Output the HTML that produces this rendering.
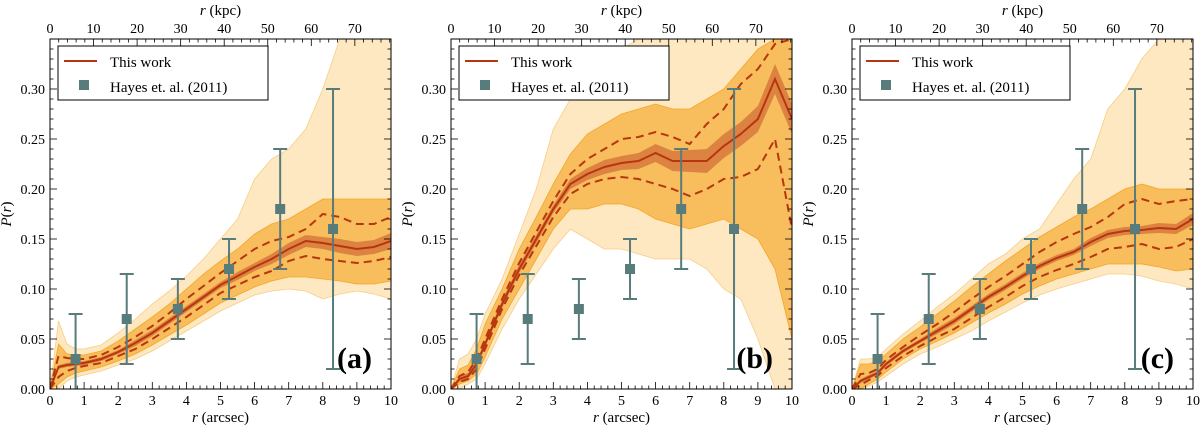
<!DOCTYPE html>
<html><head><meta charset="utf-8"><style>
html,body{margin:0;padding:0;background:#fff;}
svg{display:block;font-family:"Liberation Serif",serif;}
</style></head><body>
<svg id="fig" width="1200" height="429" viewBox="0 0 1200 429" xmlns="http://www.w3.org/2000/svg"></svg>
<script>
const rGrid=[0,0.25,0.5,0.75,1,1.5,2,2.5,3,3.5,4,4.5,5,5.5,6,6.5,7,7.5,8,8.5,9,9.5,10];
const aMedian=[0,.022,.024,.025,.026,.030,.037,.046,.056,.068,.080,.092,.104,.113,.122,.130,.140,.148,.146,.143,.140,.142,.148];
const aHalf=[0,.002,.002,.002,.002,.002,.002,.003,.003,.003,.003,.003,.003,.004,.004,.005,.006,.006,.006,.007,.007,.007,.008];
const aDashUp=[0,.033,.031,.030,.030,.034,.042,.052,.063,.076,.090,.103,.116,.128,.140,.148,.152,.160,.175,.172,.165,.165,.172];
const aDashLo=[0,.012,.018,.021,.023,.026,.033,.040,.050,.061,.072,.084,.096,.104,.112,.118,.128,.133,.130,.128,.126,.128,.132];
const aInnerUp=[0,.045,.035,.034,.034,.038,.048,.060,.072,.085,.100,.115,.128,.140,.155,.165,.17,.18,.19,.19,.19,.19,.19];
const aInnerLo=[0,.005,.012,.016,.018,.022,.028,.035,.044,.054,.064,.075,.086,.094,.102,.108,.112,.112,.110,.108,.105,.105,.108];
const aOuterUp=[0,.068,.045,.040,.040,.044,.056,.070,.085,.098,.113,.130,.150,.170,.210,.230,.240,.260,.300,.350,.350,.350,.350];
const aOuterLo=[0,0,.008,.012,.014,.018,.024,.030,.038,.048,.058,.068,.078,.086,.094,.098,.100,.098,.090,.095,.098,.095,.090];

const bMedian=[0,.010,.013,.025,.045,.085,.120,.150,.180,.205,.215,.222,.226,.228,.236,.228,.228,.228,.243,.255,.270,.310,.270];
const bHalf=[0,.003,.003,.003,.003,.004,.004,.004,.004,.005,.006,.007,.007,.008,.009,.010,.011,.012,.012,.012,.013,.015,.015];
const bDashUp=[0,.013,.017,.030,.050,.090,.126,.157,.188,.215,.230,.240,.250,.252,.257,.252,.245,.265,.280,.305,.320,.345,.350];
const bDashLo=[0,.007,.010,.020,.040,.080,.114,.143,.172,.195,.205,.210,.212,.210,.205,.200,.193,.200,.210,.212,.220,.250,.160];
const bInnerUp=[0,.02,.024,.04,.065,.10,.14,.172,.205,.235,.255,.265,.275,.28,.285,.28,.28,.29,.30,.32,.34,.35,.35];
const bInnerLo=[0,.005,.008,.015,.032,.07,.10,.13,.16,.18,.18,.185,.185,.18,.17,.165,.16,.165,.17,.16,.15,.12,.05];
const bOuterUp=[0,.03,.035,.05,.075,.11,.155,.20,.26,.29,.30,.32,.34,.35,.35,.35,.35,.35,.35,.35,.35,.35,.35];
const bOuterLo=[0,0,.005,.01,.025,.06,.09,.115,.14,.16,.15,.14,.14,.135,.13,.13,.13,.12,.10,.09,.05,0,0];

const cMedian=[0,.008,.012,.016,.025,.038,.048,.058,.068,.080,.092,.102,.113,.123,.131,.137,.147,.155,.158,.159,.161,.160,.170];
const cHalf=[0,.002,.002,.002,.002,.002,.002,.003,.003,.003,.003,.003,.003,.003,.003,.003,.004,.004,.004,.004,.005,.005,.006];
const cDashUp=[0,.015,.016,.020,.029,.042,.054,.065,.077,.090,.102,.113,.125,.137,.147,.155,.162,.172,.185,.190,.185,.188,.190];
const cDashLo=[0,.004,.009,.013,.021,.033,.043,.052,.060,.071,.082,.092,.103,.112,.119,.125,.132,.140,.142,.145,.140,.142,.150];
const cInnerUp=[0,.025,.025,.028,.035,.05,.062,.075,.088,.102,.115,.128,.14,.152,.162,.172,.18,.19,.2,.205,.2,.2,.2];
const cInnerLo=[0,0,.005,.01,.017,.03,.04,.048,.056,.066,.076,.085,.095,.103,.11,.115,.12,.125,.125,.125,.122,.118,.12];
const cOuterUp=[0,.03,.03,.032,.04,.055,.068,.082,.095,.11,.125,.135,.15,.16,.185,.21,.23,.28,.30,.33,.35,.35,.35];
const cOuterLo=[0,0,.003,.007,.013,.025,.035,.042,.05,.058,.068,.077,.086,.094,.10,.105,.11,.115,.115,.113,.108,.105,.1];

const hayesR=[0.75,2.25,3.75,5.25,6.75,8.3];
const hayesP=[0.03,0.07,0.08,0.12,0.18,0.16];
const hayesLo=[-0.01,0.025,0.05,0.09,0.12,0.02];
const hayesHi=[0.075,0.115,0.11,0.15,0.24,0.30];
const yTicks=["0.00","0.05","0.10","0.15","0.20","0.25","0.30"];
const xTicks=["0","1","2","3","4","5","6","7","8","9","10"];
const kpcTicks=["0","10","20","30","40","50","60","70"];
const kpcPerArcsec=7.83;

const NS="http://www.w3.org/2000/svg";
const svg=document.getElementById('fig');
function mk(tag,attrs,parent){const e=document.createElementNS(NS,tag);for(const k in attrs)e.setAttribute(k,attrs[k]);(parent||svg).appendChild(e);return e;}

const panels=[
 {id:'a',x0:50,med:aMedian,half:aHalf,du:aDashUp,dl:aDashLo,iu:aInnerUp,il:aInnerLo,ou:aOuterUp,ol:aOuterLo},
 {id:'b',x0:451,med:bMedian,half:bHalf,du:bDashUp,dl:bDashLo,iu:bInnerUp,il:bInnerLo,ou:bOuterUp,ol:bOuterLo},
 {id:'c',x0:852,med:cMedian,half:cHalf,du:cDashUp,dl:cDashLo,iu:cInnerUp,il:cInnerLo,ou:cOuterUp,ol:cOuterLo}
];
const W=341,yTop=39,yBot=389,yMax=0.35;
panels.forEach(p=>{
 const X=r=>p.x0+r/10*W, Y=v=>yBot-v/yMax*(yBot-yTop);
 const g=mk('g',{});
 
 
 const cp=mk('clipPath',{id:'clip'+p.id},g);
 mk('rect',{x:p.x0,y:yTop,width:W,height:yBot-yTop},cp);
 const pg=mk('g',{'clip-path':'url(#clip'+p.id+')'},g);
 const line=arr=>arr.map((v,i)=>(i?'L':'M')+X(rGrid[i]).toFixed(1)+' '+Y(v).toFixed(1)).join('');
 const area=(up,lo)=>line(up)+rGrid.slice().reverse().map((r,i)=>'L'+X(r).toFixed(1)+' '+Y(lo[lo.length-1-i]).toFixed(1)).join('')+'Z';
 const o=mk('path',{d:area(p.ou,p.ol),fill:'#fde8c2',stroke:'#f8cd85','stroke-width':0.8},pg);
 
 
 const inn=mk('path',{d:area(p.iu,p.il),fill:'#f8bd5c',stroke:'#f5a623','stroke-width':0.8},pg);
 
 
 const bu=p.med.map((v,i)=>v+p.half[i]), bl=p.med.map((v,i)=>v-p.half[i]);
 const band=mk('path',{d:area(bu,bl),fill:'#d4703a','fill-opacity':0.75,stroke:'none'},pg);
 
 
 [p.du,p.dl].forEach((arr,k)=>{
  const d=mk('path',{d:line(arr),fill:'none',stroke:'#b8360f','stroke-width':2,'stroke-dasharray':'8,5'},pg);
  
  
 });
 const m=mk('path',{d:line(p.med),fill:'none',stroke:'#b8360f','stroke-width':2},pg);
 
 
 hayesR.forEach((r,i)=>{
  const eg=mk('g',{},pg);
  
  
  const x=X(r);
  mk('line',{x1:x,x2:x,y1:Y(hayesLo[i]),y2:Y(hayesHi[i]),stroke:'#587b7b','stroke-width':2},eg);
  mk('line',{x1:x-7,x2:x+7,y1:Y(hayesHi[i]),y2:Y(hayesHi[i]),stroke:'#587b7b','stroke-width':2},eg);
  mk('line',{x1:x-7,x2:x+7,y1:Y(hayesLo[i]),y2:Y(hayesLo[i]),stroke:'#587b7b','stroke-width':2},eg);
  mk('rect',{x:x-5,y:Y(hayesP[i])-5,width:10,height:10,fill:'#587b7b'},eg);
 });
 const fr=mk('rect',{x:p.x0,y:yTop,width:W,height:yBot-yTop,fill:'none',stroke:'#000','stroke-width':1},g);
 
 
 for(let i=0;i<=50;i++){const r=i*0.2,x=X(r),len=(i%5==0)?7:3.5;
  mk('line',{x1:x,x2:x,y1:yBot,y2:yBot-len,stroke:'#000','stroke-width':0.8},g);}
 xTicks.forEach(t=>{const tx=mk('text',{x:X(+t),y:yBot+16,'font-size':14,'text-anchor':'middle'},g);tx.textContent=t;
  });
 const xt=mk('text',{x:p.x0+W/2,y:yBot+33,'font-size':15,'text-anchor':'middle'},g);
 xt.innerHTML='<tspan font-style="italic">r</tspan> (arcsec)';
 
 for(let k=0;k<=78;k+=2){const x=X(k/kpcPerArcsec),len=(k%10==0)?7:3.5;
  mk('line',{x1:x,x2:x,y1:yTop,y2:yTop+len,stroke:'#000','stroke-width':0.8},g);}
 kpcTicks.forEach(t=>{const tx=mk('text',{x:X(+t/kpcPerArcsec),y:yTop-6,'font-size':14,'text-anchor':'middle'},g);tx.textContent=t;
  });
 const kt=mk('text',{x:p.x0+W/2,y:15,'font-size':15,'text-anchor':'middle'},g);
 kt.innerHTML='<tspan font-style="italic">r</tspan> (kpc)';
 
 for(let i=0;i<=35;i++){const v=i*0.01,y=Y(v),len=(i%5==0)?7:3.5;
  mk('line',{x1:p.x0,x2:p.x0+len,y1:y,y2:y,stroke:'#000','stroke-width':0.8},g);
  mk('line',{x1:p.x0+W,x2:p.x0+W-len,y1:y,y2:y,stroke:'#000','stroke-width':0.8},g);}
 yTicks.forEach(t=>{const tx=mk('text',{x:p.x0-5,y:Y(+t)+5,'font-size':14,'text-anchor':'end'},g);tx.textContent=t;
  });
 const yt=mk('text',{x:0,y:0,'font-size':15,'text-anchor':'middle',transform:'translate('+(p.x0-39)+',214) rotate(-90)'},g);
 yt.innerHTML='<tspan font-style="italic">P</tspan>(<tspan font-style="italic">r</tspan>)';
 
 const lg=mk('g',{},g);
 
 
 mk('rect',{x:p.x0+8,y:46,width:210,height:54,fill:'#fff',stroke:'#000','stroke-width':1},lg);
 mk('line',{x1:p.x0+14,x2:p.x0+47,y1:61,y2:61,stroke:'#b8360f','stroke-width':2},lg);
 const l1=mk('text',{x:p.x0+60,y:67,'font-size':15},lg);l1.textContent='This work';
 mk('rect',{x:p.x0+29,y:80,width:10,height:10,fill:'#587b7b'},lg);
 const l2=mk('text',{x:p.x0+60,y:92,'font-size':15},lg);l2.textContent='Hayes et. al. (2011)';
 const pl=mk('text',{x:p.x0+W-19,y:368,'font-size':30,'font-weight':'bold','text-anchor':'end'},g);
 pl.textContent='('+p.id+')';
 
});
</script>
</body></html>
